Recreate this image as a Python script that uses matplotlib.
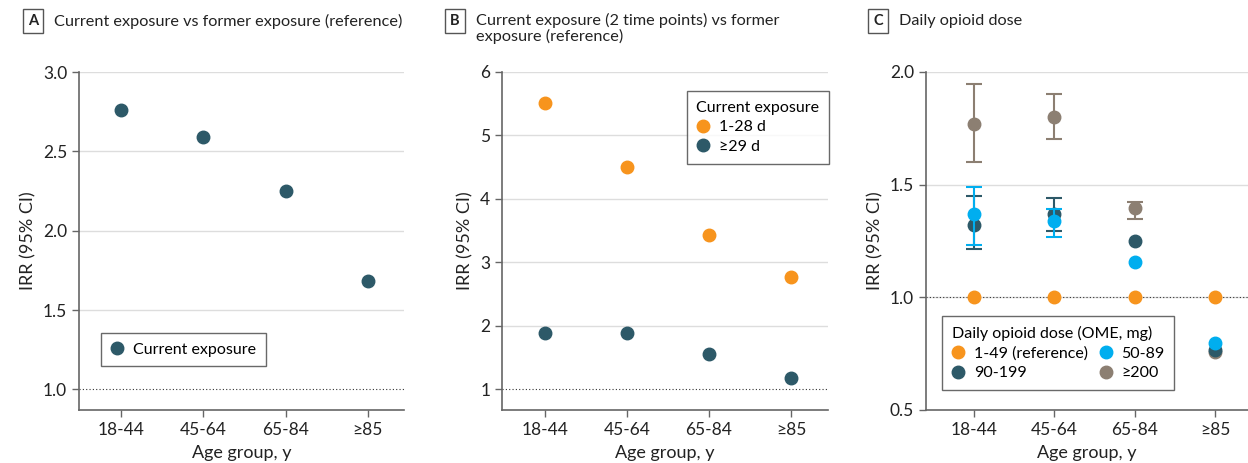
import numpy as np
import matplotlib
matplotlib.use('Agg')
import matplotlib.pyplot as plt

plt.rcParams['font.family'] = ['Lato', 'DejaVu Sans']

ages = ['18-44', '45-64', '65-84', '≥85']

# panel A
a_current = [2.76, 2.59, 2.25, 1.68]

# panel B
b_short = [5.51, 4.50, 3.43, 2.77]
b_long = [1.88, 1.88, 1.55, 1.17]

# panel C  (point, lower, upper) ; nan = no CI drawn
c_ref = [1.0, 1.0, 1.0, 1.0]
c_50 = [1.368, 1.337, 1.155, 0.797]
c_50_lo = [1.232, 1.269, np.nan, np.nan]
c_50_hi = [1.490, 1.393, np.nan, np.nan]
c_90 = [1.323, 1.372, 1.249, 0.768]
c_90_lo = [1.213, 1.294, np.nan, np.nan]
c_90_hi = [1.450, 1.442, np.nan, np.nan]
c_200 = [1.769, 1.799, 1.398, 0.759]
c_200_lo = [1.602, 1.703, 1.349, np.nan]
c_200_hi = [1.947, 1.901, 1.425, np.nan]

dark = '#2d5968'
orange = '#f7941d'
blue = '#00aeef'
gray = '#8c7f72'
spine = '#666666'
txt = '#222222'

fig = plt.figure(figsize=(12.48, 4.63), dpi=100)
W, H = 1248, 463

def make_ax(l, r, t, b):
    return fig.add_axes([l / W, 1 - b / H, (r - l) / W, (b - t) / H])

def style(ax, ylim, yticks, ylabels, xlim):
    ax.set_xlim(*xlim)
    ax.set_ylim(*ylim)
    ax.set_xticks(range(4))
    ax.set_xticklabels(ages)
    ax.set_yticks(yticks)
    ax.set_yticklabels(ylabels)
    for s in ['top', 'right']:
        ax.spines[s].set_visible(False)
    for s in ['left', 'bottom']:
        ax.spines[s].set_color(spine)
        ax.spines[s].set_linewidth(1.2)
    ax.tick_params(colors=spine, labelcolor=txt, labelsize=12.5, length=5, width=1)
    for y in yticks[1:]:
        ax.axhline(y, color='#dddddd', lw=1, zorder=0)
    ax.axhline(1.0, color='#333333', lw=0.8, ls=(0, (1, 2)), zorder=0)
    ax.set_xlabel('Age group, y', fontsize=13, color=txt, labelpad=5)
    ax.set_ylabel('IRR (95% CI)', fontsize=13, color=txt, labelpad=5)

def letter_box(x, letter):
    fig.text(x / W, 1 - 21 / H, letter, fontsize=10.5, fontweight='bold', color=txt,
             ha='center', va='center',
             bbox=dict(boxstyle='square,pad=0.35', fc='white', ec='#555555', lw=1))

x = np.arange(4)
ms = 9
leg_kw = dict(frameon=True, fancybox=False, edgecolor='#444444', fontsize=11.5, title_fontsize=11.5,
              handlelength=0.8, handletextpad=0.6, labelspacing=0.35, borderpad=0.6, borderaxespad=0)

# A
axA = make_ax(79, 404, 72, 410)
style(axA, (0.87, 3.0), [1.0, 1.5, 2.0, 2.5, 3.0], ['1.0', '1.5', '2.0', '2.5', '3.0'], (-0.51, 3.44))
axA.plot(x, a_current, 'o', color=dark, ms=ms, label='Current exposure')
axA.legend(loc='upper left', bbox_to_anchor=(0.068, 0.228), **leg_kw)
letter_box(33, 'A')
fig.text(54 / W, 1 - 21 / H, 'Current exposure vs former exposure (reference)', fontsize=11.7, color=txt,
         va='center')

# B
axB = make_ax(502, 828, 72, 410)
style(axB, (0.67, 6.0), [1, 2, 3, 4, 5, 6], ['1', '2', '3', '4', '5', '6'], (-0.52, 3.45))
axB.plot(x, b_short, 'o', color=orange, ms=ms, label='1-28 d')
axB.plot(x, b_long, 'o', color=dark, ms=ms, label='≥29 d')
legB = axB.legend(loc='upper left', bbox_to_anchor=(0.567, 0.944), title='Current exposure', **leg_kw)
legB._legend_box.align = 'left'
letter_box(455, 'B')
fig.text(476 / W, 1 - 13 / H, 'Current exposure (2 time points) vs former\nexposure (reference)',
         fontsize=11.7, color=txt, va='top', linespacing=1.05)

# C
axC = make_ax(926, 1248, 72, 410)
style(axC, (0.5, 2.0), [0.5, 1.0, 1.5, 2.0], ['0.5', '1.0', '1.5', '2.0'], (-0.6, 3.41))

def ebar(ax, vals, lo, hi, c, lbl):
    vals = np.array(vals); lo = np.array(lo); hi = np.array(hi)
    m = ~np.isnan(lo)
    err = np.vstack([vals[m] - lo[m], hi[m] - vals[m]])
    ax.errorbar(x[m], vals[m], yerr=err, fmt='none', ecolor=c, elinewidth=1.5, capsize=6, capthick=1.5)
    ax.plot(x, vals, 'o', color=c, ms=ms, label=lbl)

ebar(axC, c_200, c_200_lo, c_200_hi, gray, '≥200')
ebar(axC, c_90, c_90_lo, c_90_hi, dark, '90-199')
ebar(axC, c_50, c_50_lo, c_50_hi, blue, '50-89')
axC.plot(x, c_ref, 'o', color=orange, ms=ms, label='1-49 (reference)')
h, l = axC.get_legend_handles_labels()
order = [l.index('1-49 (reference)'), l.index('90-199'), l.index('50-89'), l.index('≥200')]
legC = axC.legend([h[i] for i in order], [l[i] for i in order], ncol=2, loc='upper left',
                  bbox_to_anchor=(0.05, 0.278), title='Daily opioid dose (OME, mg)',
                  columnspacing=0.7, **leg_kw)
legC._legend_box.align = 'left'
letter_box(878, 'C')
fig.text(899 / W, 1 - 21 / H, 'Daily opioid dose', fontsize=11.7, color=txt, va='center')

fig.savefig('out.png', dpi=100)
